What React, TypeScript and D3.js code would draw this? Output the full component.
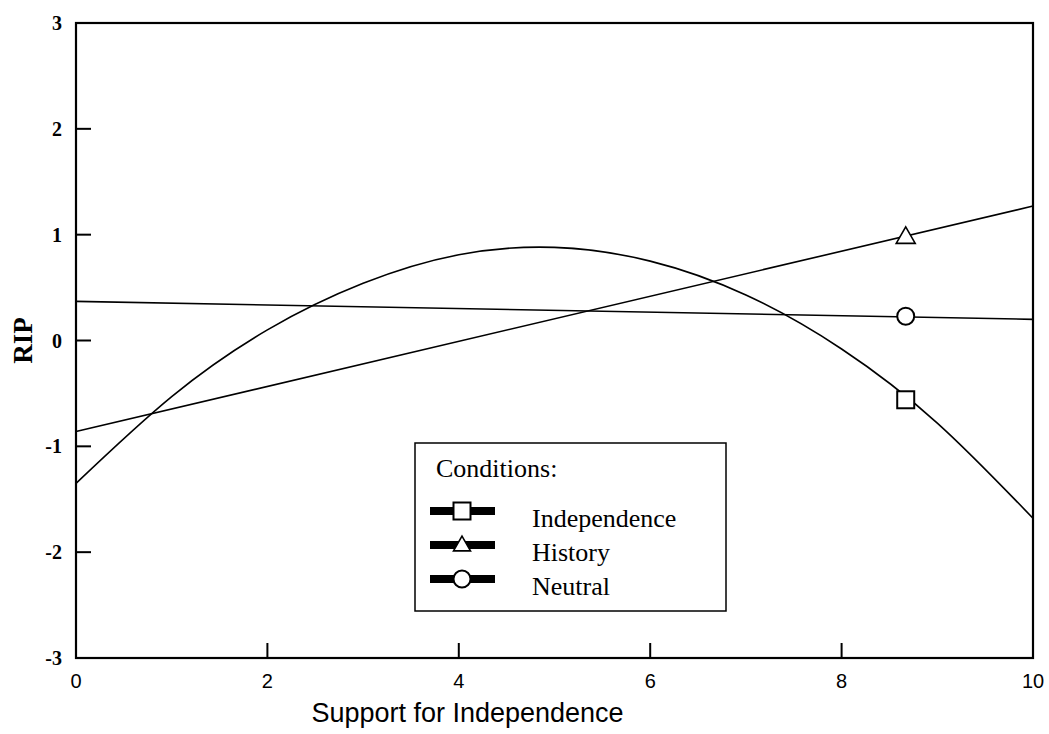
import React from 'react';
import * as d3 from 'd3';

// Values
const xTicks = [0, 2, 4, 6, 8, 10];
const yTicks = [-3, -2, -1, 0, 1, 2, 3];

const independenceX = [0, 1, 2, 3, 4, 5, 6, 7, 8, 9, 10];
const independenceY = [-1.35, -0.53, 0.1, 0.54, 0.81, 0.88, 0.75, 0.43, -0.08, -0.78, -1.68];

const historyX = [0, 10];
const historyY = [-0.86, 1.27];

const neutralX = [0, 10];
const neutralY = [0.37, 0.2];

const markerX = 8.67;
const markerY = { Independence: -0.56, History: 0.98, Neutral: 0.23 };

const legendLabels = ['Independence', 'History', 'Neutral'];

const W = 1049;
const H = 734;
const margin = { top: 23, right: 16, bottom: 76, left: 76 };

const App = () => {
  const x = d3.scaleLinear().domain([0, 10]).range([margin.left, W - margin.right]);
  const y = d3.scaleLinear().domain([-3, 3]).range([H - margin.bottom, margin.top]);

  const line = d3.line<[number, number]>()
    .x(d => x(d[0]))
    .y(d => y(d[1]));
  const curve = d3.line<[number, number]>()
    .x(d => x(d[0]))
    .y(d => y(d[1]))
    .curve(d3.curveNatural);

  const zip = (xs: number[], ys: number[]) => xs.map((v, i) => [v, ys[i]] as [number, number]);

  const serif = '"Liberation Serif", "Times New Roman", serif';
  const sans = '"Liberation Sans", Arial, sans-serif';

  const x0 = x(0), x1 = x(10), y0 = y(-3), y1 = y(3);

  const square = (cx: number, cy: number, s = 17) => (
    <rect x={cx - s / 2} y={cy - s / 2} width={s} height={s} fill="white" stroke="black" strokeWidth={2} />
  );
  const triangle = (cx: number, cy: number, s = 19) => {
    const h = s * 0.87;
    return (
      <path d={`M${cx},${cy - h * 0.6} L${cx + s / 2},${cy + h * 0.4} L${cx - s / 2},${cy + h * 0.4} Z`}
        fill="white" stroke="black" strokeWidth={1.6} />
    );
  };
  const circle = (cx: number, cy: number, s = 17) => (
    <circle cx={cx} cy={cy} r={s / 2} fill="white" stroke="black" strokeWidth={2} />
  );

  // legend box
  const lg = { x: 415, y: 443, w: 311, h: 168 };
  const legendRowY = [511, 545, 579];
  const legendMarkers = [square, triangle, circle];

  return (
    <svg width={W} height={H} style={{ position: 'absolute', left: 0, top: 0, background: 'white' }}>
      {/* series */}
      <path d={curve(zip(independenceX, independenceY)) || ''} fill="none" stroke="black" strokeWidth={1.6} />
      <path d={line(zip(historyX, historyY)) || ''} fill="none" stroke="black" strokeWidth={1.6} />
      <path d={line(zip(neutralX, neutralY)) || ''} fill="none" stroke="black" strokeWidth={1.6} />

      {/* markers */}
      {square(x(markerX), y(markerY.Independence))}
      {triangle(x(markerX), y(markerY.History))}
      {circle(x(markerX), y(markerY.Neutral))}

      {/* frame */}
      <rect x={x0} y={y1} width={x1 - x0} height={y0 - y1} fill="none" stroke="black" strokeWidth={2.2} />

      {/* y ticks */}
      {yTicks.map(t => (
        <g key={'y' + t}>
          {t > -3 && t < 3 && <line x1={x0} x2={x0 + 15} y1={y(t)} y2={y(t)} stroke="black" strokeWidth={2} />}
          <text x={62} y={y(t)} dy="0.35em" textAnchor="end" fontFamily={serif} fontWeight="bold" fontSize={20}>
            {t}
          </text>
        </g>
      ))}

      {/* x ticks */}
      {xTicks.map(t => (
        <g key={'x' + t}>
          {t > 0 && t < 10 && <line x1={x(t)} x2={x(t)} y1={y0} y2={y0 - 15} stroke="black" strokeWidth={2} />}
          <text x={x(t)} y={688} textAnchor="middle" fontFamily={sans} fontSize={20}>
            {t}
          </text>
        </g>
      ))}

      {/* axis titles */}
      <text x={(x0 + x1) / 2 - 87} y={722} textAnchor="middle" fontFamily={sans} fontSize={27}>
        Support for Independence
      </text>
      <text transform={`translate(32, ${y(0)}) rotate(-90)`} textAnchor="middle" fontFamily={serif} fontWeight="bold" fontSize={27}>
        RIP
      </text>

      {/* legend */}
      <rect x={lg.x} y={lg.y} width={lg.w} height={lg.h} fill="white" stroke="black" strokeWidth={1.5} />
      <text x={436} y={477} fontFamily={serif} fontSize={26}>Conditions:</text>
      {legendLabels.map((name, i) => (
        <g key={name}>
          <line x1={430} x2={495} y1={legendRowY[i]} y2={legendRowY[i]} stroke="black" strokeWidth={8} />
          {legendMarkers[i](462, legendRowY[i], 17)}
          <text x={532} y={legendRowY[i] + 16} fontFamily={serif} fontSize={26}>{name}</text>
        </g>
      ))}
    </svg>
  );
};

export default App;
